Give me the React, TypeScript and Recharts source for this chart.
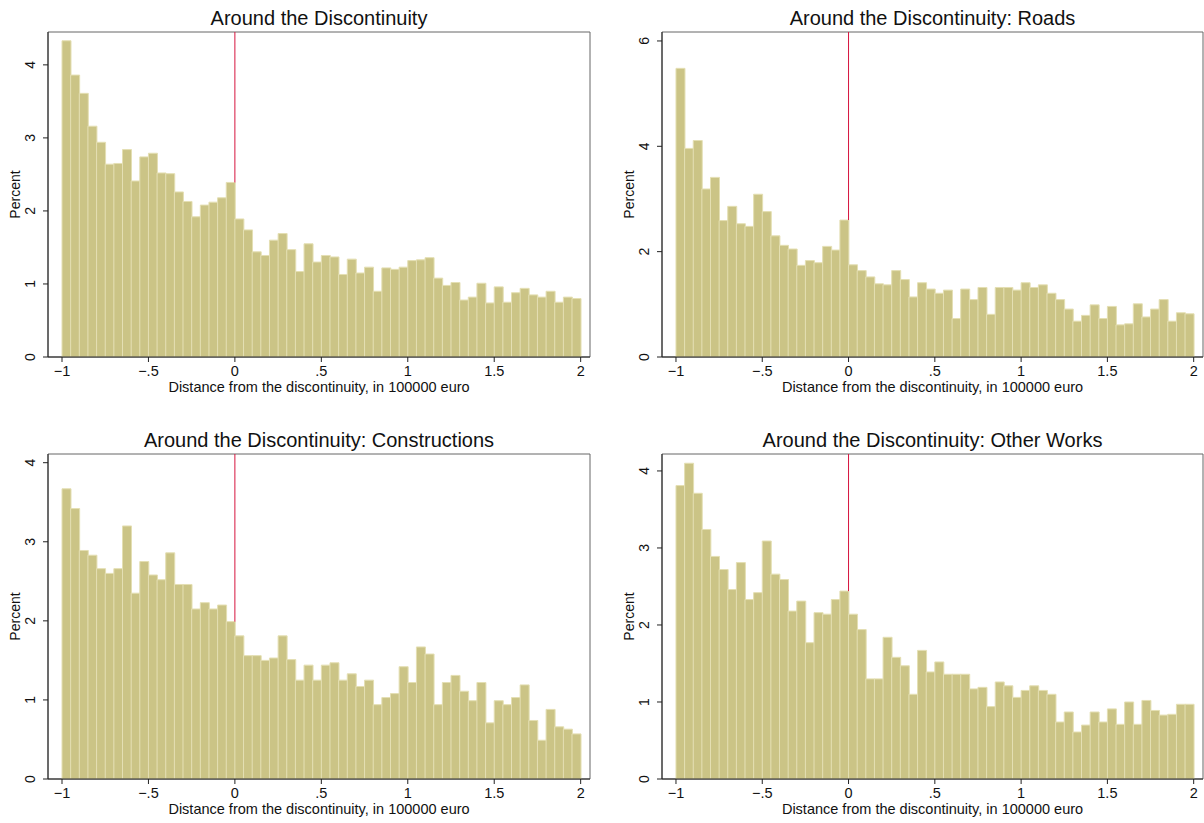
import { BarChart, Bar, XAxis, YAxis, ReferenceLine, ReferenceArea } from 'recharts';

// bins of width .05 from -1 to 2, keyed by their centre
const BIN_CENTERS = Array.from({ length: 60 }, (_, i) => Math.round((-0.975 + i * 0.05) * 1000) / 1000);

const ALL_WORKS = [
  4.33, 3.86, 3.61, 3.16, 2.94, 2.64, 2.65, 2.84, 2.41, 2.74,
  2.79, 2.52, 2.51, 2.26, 2.13, 1.92, 2.08, 2.12, 2.18, 2.39,
  1.89, 1.74, 1.44, 1.39, 1.60, 1.69, 1.47, 1.17, 1.55, 1.30,
  1.39, 1.37, 1.13, 1.34, 1.15, 1.23, 0.90, 1.22, 1.20, 1.23,
  1.32, 1.33, 1.36, 1.08, 0.98, 1.02, 0.78, 0.82, 1.01, 0.74,
  0.96, 0.75, 0.88, 0.94, 0.85, 0.82, 0.90, 0.75, 0.82, 0.80,
];

const ROADS = [
  5.48, 3.96, 4.11, 3.19, 3.41, 2.59, 2.86, 2.53, 2.48, 3.09,
  2.76, 2.30, 2.12, 2.05, 1.74, 1.83, 1.79, 2.10, 2.03, 2.60,
  1.75, 1.64, 1.52, 1.39, 1.37, 1.64, 1.47, 1.14, 1.41, 1.29,
  1.21, 1.27, 0.73, 1.29, 1.09, 1.32, 0.81, 1.32, 1.32, 1.27,
  1.41, 1.32, 1.37, 1.21, 1.09, 0.91, 0.68, 0.79, 0.99, 0.73,
  0.96, 0.61, 0.63, 1.01, 0.76, 0.91, 1.09, 0.68, 0.84, 0.82,
];

const CONSTRUCTIONS = [
  3.67, 3.42, 2.89, 2.83, 2.66, 2.60, 2.66, 3.20, 2.35, 2.75,
  2.58, 2.52, 2.86, 2.46, 2.46, 2.15, 2.23, 2.15, 2.20, 1.99,
  1.81, 1.56, 1.56, 1.50, 1.53, 1.81, 1.51, 1.25, 1.44, 1.25,
  1.44, 1.47, 1.25, 1.33, 1.17, 1.25, 0.94, 1.03, 1.08, 1.42,
  1.22, 1.67, 1.58, 0.94, 1.22, 1.31, 1.11, 0.99, 1.22, 0.71,
  0.99, 0.94, 1.03, 1.19, 0.74, 0.49, 0.88, 0.66, 0.63, 0.57,
];

const OTHER_WORKS = [
  3.81, 4.10, 3.71, 3.24, 2.89, 2.72, 2.46, 2.81, 2.33, 2.42,
  3.09, 2.66, 2.59, 2.18, 2.31, 1.77, 2.16, 2.14, 2.33, 2.44,
  2.14, 1.94, 1.30, 1.30, 1.84, 1.58, 1.47, 1.10, 1.67, 1.39,
  1.52, 1.36, 1.36, 1.36, 1.17, 1.19, 0.94, 1.26, 1.21, 1.06,
  1.15, 1.21, 1.15, 1.10, 0.74, 0.87, 0.61, 0.70, 0.87, 0.74,
  0.91, 0.71, 1.00, 0.71, 1.02, 0.89, 0.83, 0.84, 0.97, 0.97,
];

const X_TICKS = [-1, -0.5, 0, 0.5, 1, 1.5, 2];
const Y_TICKS_PCT = [0, 1, 2, 3, 4];
const Y_TICKS_ROADS = [0, 2, 4, 6];
const X_DOMAIN: [number, number] = [-1.081, 2.054];
const X_TITLE = 'Distance from the discontinuity, in 100000 euro';

const FONT = '"Liberation Sans", Arial, Helvetica, sans-serif';
const BAR_FILL = '#cbc486';
const BAR_EDGE = '#e4dfb3';
const CUT_RED = '#d6143e';

const fmtX = (v: number) => {
  if (v === 0) return '0';
  const s = String(Math.abs(v)).replace(/^0\./, '.');
  return v < 0 ? `\u2212${s}` : s;
};

function YTick(props: any) {
  const { x, y, payload } = props;
  return (
    <text x={x} y={y} transform={`rotate(-90, ${x}, ${y})`} textAnchor="middle"
      fontSize={14} fontFamily={FONT} fill="#111">
      {payload.value}
    </text>
  );
}

interface PanelProps {
  title: string;
  values: number[];
  yMax: number;
  yTicks: number[];
  left: number;
  top: number;
  marginLeft: number;
  marginRight: number;
}

function Panel({ title, values, yMax, yTicks, left, top, marginLeft, marginRight }: PanelProps) {
  const W = 602, H = 411;
  const data = BIN_CENTERS.map((x, i) => ({ x, pct: values[i] }));
  // the cutoff line is hidden behind the taller of the two bars next to zero
  const cut = Math.max(values[19], values[20]);
  const plotLeft = marginLeft + 48;
  const plotWidth = W - plotLeft - marginRight;

  return (
    <div style={{ position: 'absolute', left, top, width: W, height: H }}>
      <div style={{
        position: 'absolute', left: plotLeft, width: plotWidth, top: 8, textAlign: 'center',
        fontSize: 20, lineHeight: '20px', fontFamily: FONT, color: '#111', whiteSpace: 'nowrap',
      }}>
        {title}
      </div>
      <BarChart width={W} height={H} data={data} barCategoryGap={0} barGap={0}
        margin={{ top: 32, right: marginRight, bottom: 0, left: marginLeft }}>
        <ReferenceArea x1={X_DOMAIN[0]} x2={X_DOMAIN[1]} y1={0} y2={yMax}
          fill="none" stroke="#666" strokeWidth={1} ifOverflow="visible" />
        <XAxis dataKey="x" type="number" domain={X_DOMAIN} ticks={X_TICKS} interval={0}
          allowDataOverflow height={54} tickSize={5} tickMargin={4} stroke="#222"
          tickFormatter={fmtX} tick={{ fill: '#111', fontSize: 14.5, fontFamily: FONT }}
          label={{ value: X_TITLE, position: 'insideBottom', offset: 19, fill: '#111', fontSize: 14.5, fontFamily: FONT }} />
        <YAxis type="number" domain={[0, yMax]} ticks={yTicks} interval={0} allowDataOverflow
          width={48} tickSize={5} tickMargin={8} stroke="#222" tick={<YTick />}
          label={{
            value: 'Percent', angle: -90, position: 'insideLeft', offset: 15,
            style: { textAnchor: 'middle' }, fill: '#111', fontSize: 14, fontFamily: FONT,
          }} />
        <ReferenceLine segment={[{ x: 0, y: cut }, { x: 0, y: yMax }]} stroke={CUT_RED}
          strokeWidth={1} ifOverflow="visible" />
        <Bar dataKey="pct" fill={BAR_FILL} stroke={BAR_EDGE} strokeWidth={1} isAnimationActive={false} />
      </BarChart>
    </div>
  );
}

export default function App() {
  return (
    <div style={{
      position: 'absolute', left: 0, top: 0, width: 1204, height: 823,
      overflow: 'hidden', background: '#fff',
    }}>
      <Panel title="Around the Discontinuity" values={ALL_WORKS} yMax={4.45} yTicks={Y_TICKS_PCT}
        left={0} top={0} marginLeft={0} marginRight={12} />
      <Panel title="Around the Discontinuity: Roads" values={ROADS} yMax={6.17} yTicks={Y_TICKS_ROADS}
        left={602} top={0} marginLeft={12} marginRight={1} />
      <Panel title="Around the Discontinuity: Constructions" values={CONSTRUCTIONS} yMax={4.11} yTicks={Y_TICKS_PCT}
        left={0} top={422} marginLeft={0} marginRight={12} />
      <Panel title="Around the Discontinuity: Other Works" values={OTHER_WORKS} yMax={4.22} yTicks={Y_TICKS_PCT}
        left={602} top={422} marginLeft={12} marginRight={1} />
    </div>
  );
}
